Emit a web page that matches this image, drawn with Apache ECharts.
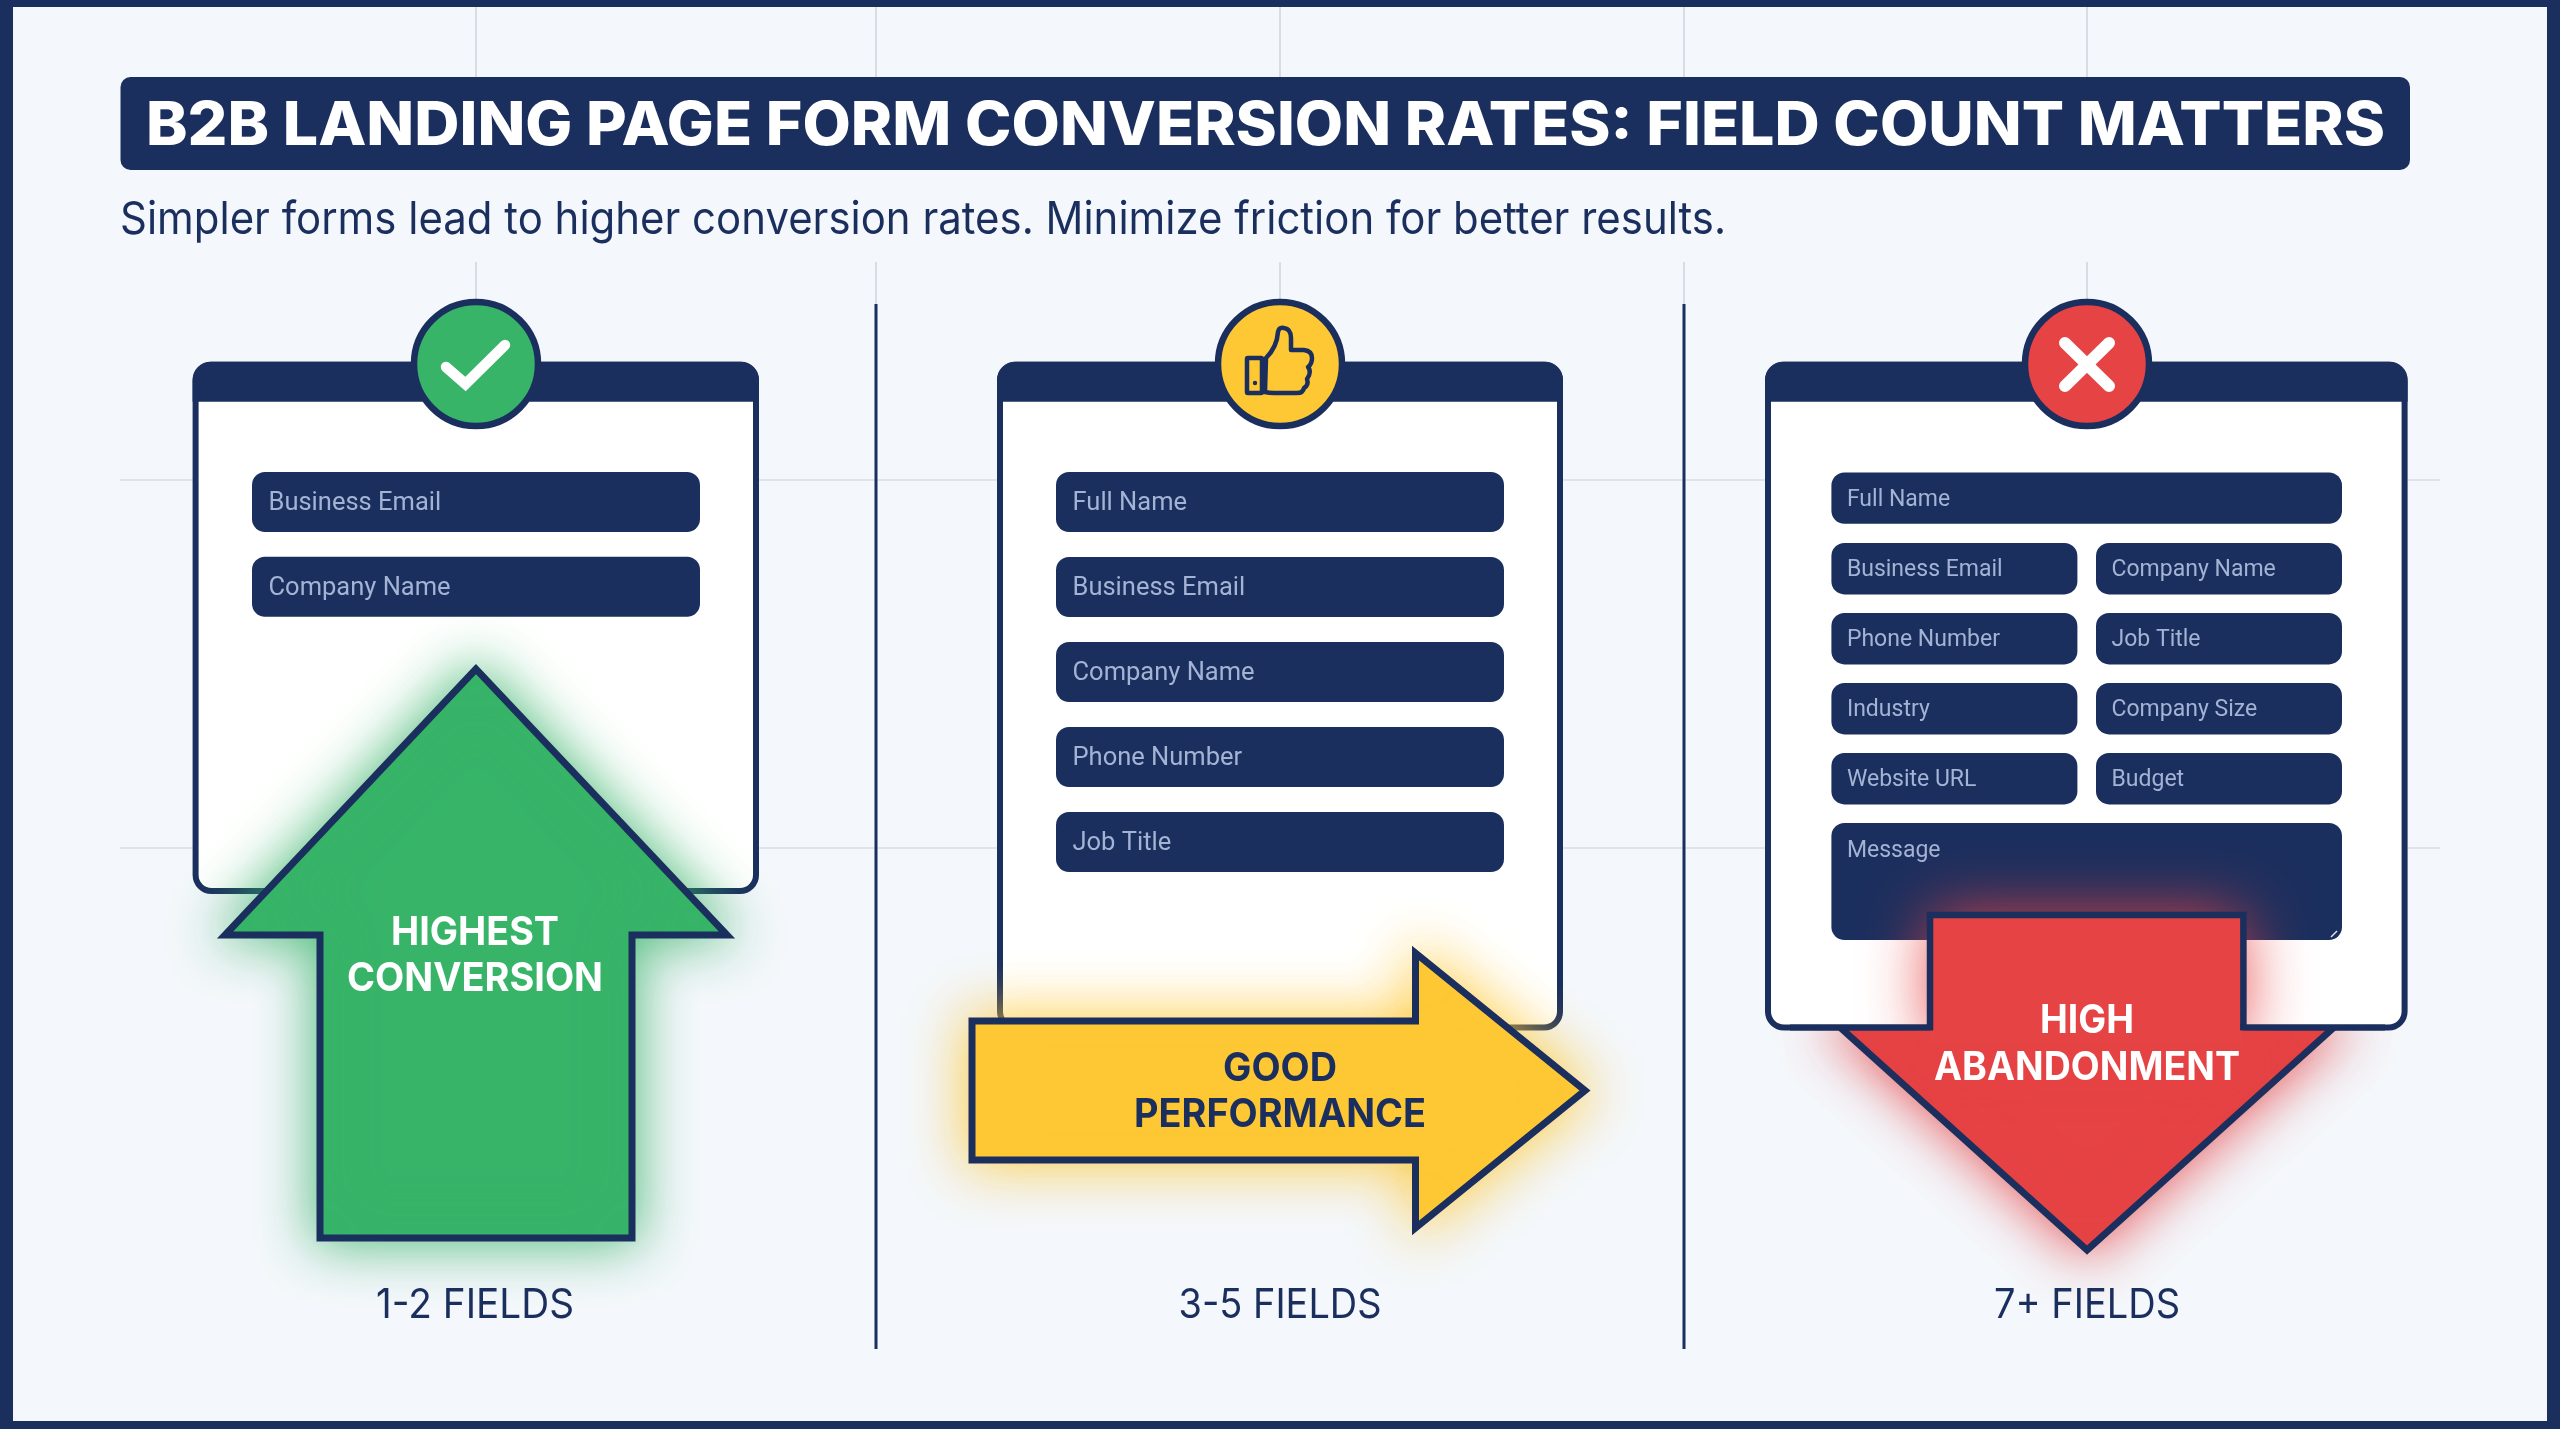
<!DOCTYPE html>
<html>
<head>
<meta charset="utf-8">
<style>html,body{margin:0;padding:0;background:#f4f7fb}#chart{width:2560px;height:1429px}</style>
<script src="https://cdn.jsdelivr.net/npm/echarts@6/dist/echarts.min.js"></script>
</head>
<body>
<div id="chart"></div>
<script>
// ---- content ----
const titleText = 'B2B LANDING PAGE FORM CONVERSION RATES: FIELD COUNT MATTERS';
const subtitleText = 'Simpler forms lead to higher conversion rates. Minimize friction for better results.';
const groupLabels = ['1-2 FIELDS', '3-5 FIELDS', '7+ FIELDS'];
const shortFormFields = ['Business Email', 'Company Name'];
const mediumFormFields = ['Full Name', 'Business Email', 'Company Name', 'Phone Number', 'Job Title'];
const longFormTop = ['Full Name'];
const longFormLeft = ['Business Email', 'Phone Number', 'Industry', 'Website URL'];
const longFormRight = ['Company Name', 'Job Title', 'Company Size', 'Budget'];
const longFormBottom = ['Message'];
const greenVerdict = ['HIGHEST', 'CONVERSION'];
const yellowVerdict = ['GOOD', 'PERFORMANCE'];
const redVerdict = ['HIGH', 'ABANDONMENT'];

// ---- palette ----
const NAVY = '#1b2f5e', BG = '#f4f7fb', FIELD_TEXT = '#a3b3d4', GRID_V = '#ced5df', GRID_H = '#dfe4ea';
const GREEN = '#37b468', YELLOW = '#fec835', RED = '#e64345';

const SANS = 'Inter, "Noto Sans", sans-serif', FIELD_FONT = 'Roboto, Inter, sans-serif';
const ctx = document.createElement('canvas').getContext('2d');
const els = [];

echarts.graphic.registerShape('thumbHand', echarts.graphic.extendPath(
  'M1265 392 L1266 358 Q1277 347 1278 332 Q1279 327 1284 328 Q1291 329 1291 338 L1291 350 L1304 350 Q1312 351 1312 358 Q1312 364 1308 367 Q1312 372 1307 379 Q1309 385 1304 388 Q1303 393 1297 393 L1274 393 Q1269 393 1265 392 Z', {}));

function rect(x, y, w, h, style, r) {
  els.push({ type: 'rect', silent: true, shape: { x, y, width: w, height: h, r: r || 0 }, style });
}
function line(x1, y1, x2, y2, stroke, lineWidth, lineCap) {
  els.push({ type: 'line', silent: true, shape: { x1, y1, x2, y2 }, style: { stroke, lineWidth, lineCap: lineCap || 'butt' } });
}
function text(str, x, y, size, weight, fill, opt) {
  opt = opt || {};
  const family = opt.family || SANS;
  let scaleX = 1;
  if (opt.width) {
    ctx.font = `${weight} ${size}px ${family}`;
    scaleX = opt.width / ctx.measureText(str).width;
  }
  els.push({
    type: 'text', silent: true, x, y: y + size * 0.05, scaleX, scaleY: 1,
    style: { text: str, x: 0, y: 0, fontSize: size, fontWeight: weight, fontFamily: family, fill,
             align: opt.align || 'left', verticalAlign: 'middle' }
  });
}
function poly(points, style) {
  els.push({ type: 'polygon', silent: true, shape: { points }, style });
}
function card(x1, x2, bottom) {
  const y1 = 361.7;
  rect(x1 + 3, y1 + 3, x2 - x1 - 6, bottom - y1 - 6, { fill: '#fff', stroke: NAVY, lineWidth: 6 }, 16);
  rect(x1, y1, x2 - x1, 40, { fill: NAVY }, [18, 18, 0, 0]);
}
function field(x, y, w, h, label, size, topAlign) {
  rect(x, y, w, h, { fill: NAVY }, 13);
  const pad = size > 25 ? 16.5 : 15.5;
  text(label, x + pad, (topAlign ? y + 26 : y + h / 2) + 0.7, size, 400, FIELD_TEXT, { family: FIELD_FONT });
}
function badge(cx, fill) {
  els.push({ type: 'circle', silent: true, shape: { cx, cy: 364, r: 62 }, style: { fill, stroke: NAVY, lineWidth: 6.5 } });
}

// ---- frame and faint grid ----
rect(0, 0, 2560, 1429, { fill: NAVY });
rect(13, 7, 2534, 1414, { fill: BG });
[476, 876, 1280, 1684, 2087].forEach(x => {
  line(x, 7, x, 77, GRID_V, 1.5);
  line(x, 262, x, 340, GRID_V, 1.5);
});
[480, 848].forEach(y => line(120, y, 2440, y, GRID_H, 2));
[876, 1684].forEach(x => line(x, 304, x, 1349, NAVY, 3));

// ---- header ----
rect(120.5, 77, 2289.5, 93, { fill: NAVY }, 10);
text(titleText, 146, 124, 60, 800, '#ffffff', { width: 2239 });
text(subtitleText, 120, 218.5, 45, 400, NAVY, { width: 1606 });

// ---- panel 1 ----
card(192.6, 759, 894);
shortFormFields.forEach((f, i) => field(252, 472 + i * 84.7, 448, 60, f, 25.5));
badge(476, GREEN);
els.push({ type: 'polyline', silent: true, shape: { points: [[446, 367], [465.5, 384], [505, 345]] },
  style: { fill: 'none', stroke: '#fff', lineWidth: 10.5, lineCap: 'round', lineJoin: 'miter' } });
poly([[476, 669], [225, 935], [320, 935], [320, 1238], [632, 1238], [632, 935], [727, 935]],
  { fill: GREEN, stroke: NAVY, lineWidth: 7, lineJoin: 'miter', shadowBlur: 54, shadowColor: 'rgba(55,180,104,0.9)' });
text(greenVerdict[0], 475, 930.5, 40, 700, '#fff', { align: 'center', width: 168 });
text(greenVerdict[1], 475, 976.5, 40, 700, '#fff', { align: 'center', width: 256 });
text(groupLabels[0], 475, 1303.5, 41, 400, NAVY, { align: 'center', width: 198 });

// ---- panel 2 ----
card(997, 1563, 1030.6);
mediumFormFields.forEach((f, i) => field(1056, 472 + i * 85, 448, 60, f, 25.5));
badge(1280, YELLOW);
els.push({ type: 'thumbHand', silent: true, style: { fill: YELLOW, stroke: NAVY, lineWidth: 4.5, lineJoin: 'round' } });
rect(1247, 358, 15, 35, { fill: YELLOW, stroke: NAVY, lineWidth: 4.5 }, 1);
els.push({ type: 'circle', silent: true, shape: { cx: 1255, cy: 383, r: 2.2 }, style: { fill: NAVY } });
poly([[972, 1021], [1415.5, 1021], [1415.5, 953], [1585, 1090.5], [1415.5, 1228], [1415.5, 1160], [972, 1160]],
  { fill: YELLOW, stroke: NAVY, lineWidth: 7, lineJoin: 'miter', shadowBlur: 56, shadowColor: 'rgba(254,200,53,0.95)' });
text(yellowVerdict[0], 1280, 1067.5, 39, 700, NAVY, { align: 'center', width: 114 });
text(yellowVerdict[1], 1280, 1113.5, 39, 700, NAVY, { align: 'center', width: 292 });
text(groupLabels[1], 1280, 1303.5, 41, 400, NAVY, { align: 'center', width: 203 });

// ---- panel 3 ----
poly([[2087, 1250], [1832, 1020], [2342, 1020]],
  { fill: RED, stroke: NAVY, lineWidth: 7, lineJoin: 'miter', shadowBlur: 54, shadowColor: 'rgba(230,67,69,0.9)' });
card(1765, 2407.6, 1030.6);
longFormTop.forEach(f => field(1831.4, 472.4, 510.6, 51.4, f, 23));
longFormLeft.forEach((f, i) => field(1831.4, 543 + i * 70, 246, 51.4, f, 23));
longFormRight.forEach((f, i) => field(2096, 543 + i * 70, 246, 51.4, f, 23));
longFormBottom.forEach(f => field(1831.4, 823, 510.6, 117, f, 23, true));
line(2331, 937, 2337, 931, '#dfe6f2', 1.5);
// arrow shaft sits over the card, the head beneath it
rect(1930, 915, 313.4, 130, { fill: RED, shadowBlur: 64, shadowColor: 'rgba(230,67,69,0.95)' });
els.push({ type: 'polyline', silent: true, shape: { points: [[1930, 1030], [1930, 915], [2243.4, 915], [2243.4, 1030]] },
  style: { fill: 'none', stroke: NAVY, lineWidth: 6.5, lineJoin: 'miter' } });
line(1790, 1027.6, 1933, 1027.6, NAVY, 6);
line(2240.4, 1027.6, 2385, 1027.6, NAVY, 6);
badge(2087, RED);
line(2065, 343, 2109, 386, '#fff', 12, 'round');
line(2109, 343, 2065, 386, '#fff', 12, 'round');
text(redVerdict[0], 2087, 1019.5, 39, 700, '#fff', { align: 'center', width: 94 });
text(redVerdict[1], 2087, 1066, 39, 700, '#fff', { align: 'center', width: 306 });
text(groupLabels[2], 2087, 1303.5, 41, 400, NAVY, { align: 'center', width: 186 });

const chart = echarts.init(document.getElementById('chart'), null, { renderer: 'canvas', width: 2560, height: 1429 });
chart.setOption({ animation: false, backgroundColor: BG, graphic: { elements: els } });
</script>
</body>
</html>
